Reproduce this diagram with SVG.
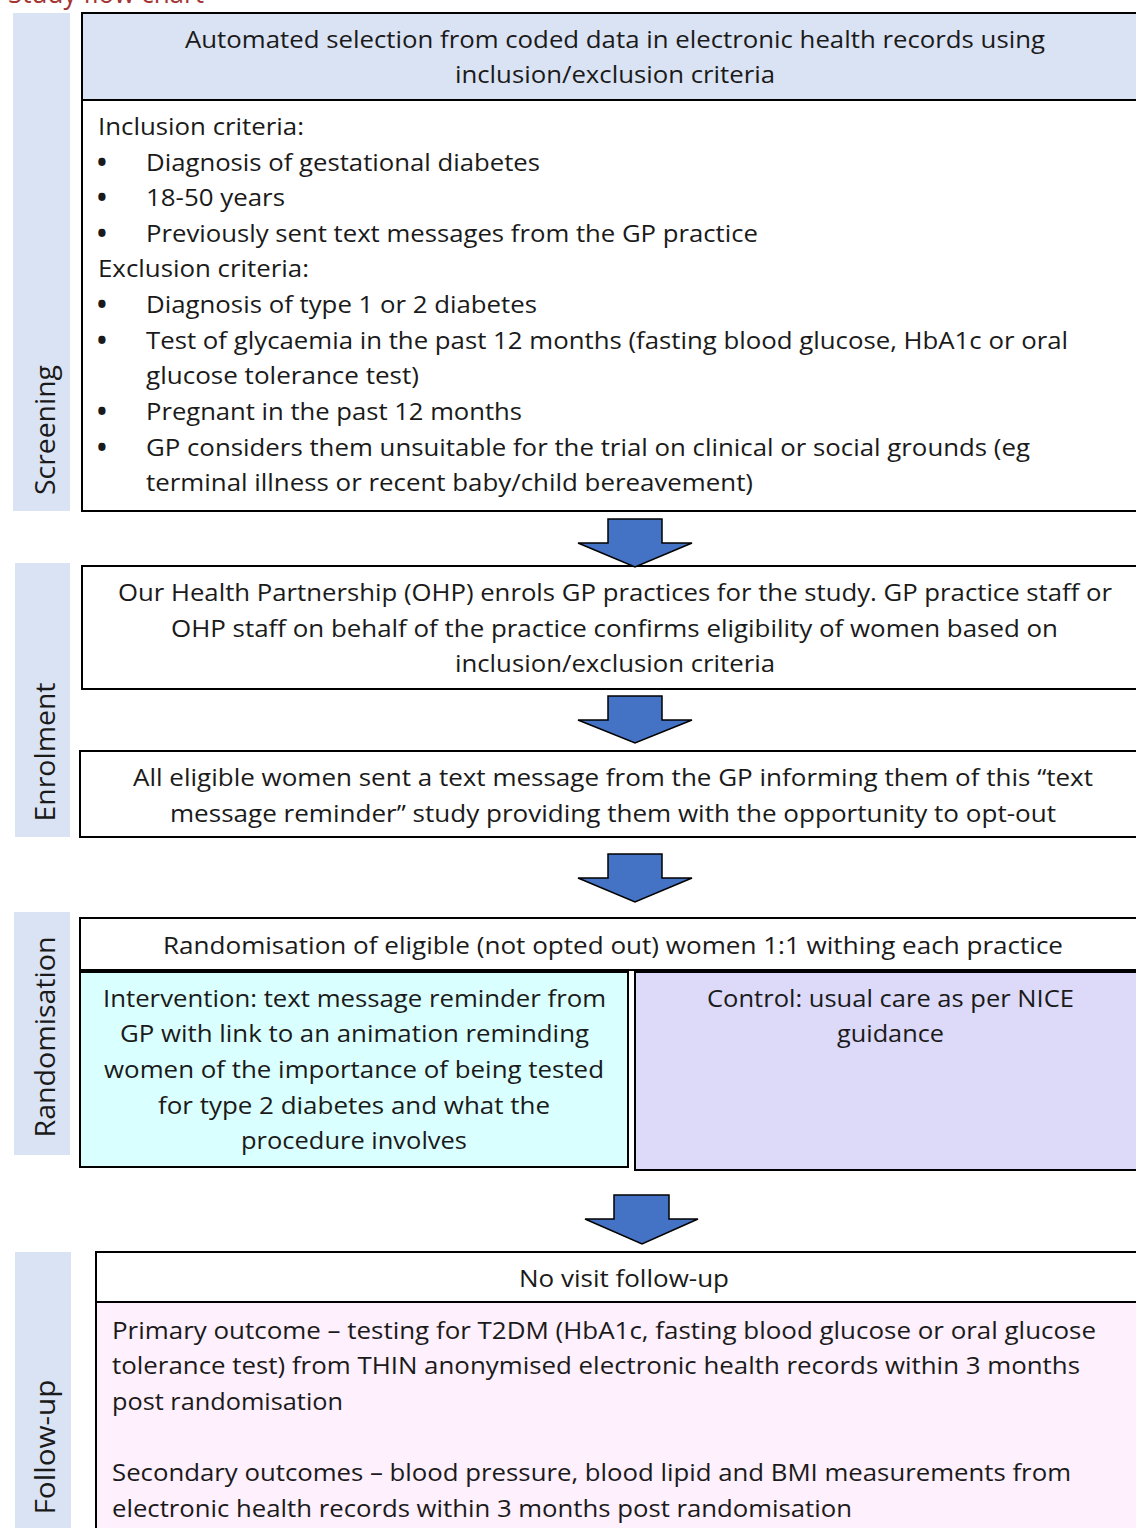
<svg xmlns="http://www.w3.org/2000/svg" width="1136" height="1528" viewBox="0 0 1136 1528">
<style>
text { font-family: "Open Sans", "Liberation Sans", sans-serif; font-size: 24px; fill: #1a1a1a; }
.lbl { fill: #dae3f3; }
.lt { font-size: 27px; text-anchor: middle; }
.box { stroke: #000; stroke-width: 2; }
.arrow { fill: #4472c4; stroke: #000; stroke-width: 1.5; stroke-linejoin: miter; }
.title { fill: #a33533; font-size: 27px; }
.bul { font-size: 26px; font-weight: bold; }
</style>
<rect width="1136" height="1528" fill="#fff"/>
<text class="title" x="8" y="3" textLength="196" lengthAdjust="spacingAndGlyphs">Study flow chart</text>

<g id="label-screening">
<rect class="lbl" x="13" y="13" width="57" height="498"/>
<text class="lt" transform="translate(55,430) rotate(-90)" textLength="130" lengthAdjust="spacingAndGlyphs">Screening</text>
</g>
<g id="label-enrolment">
<rect class="lbl" x="15" y="563" width="55" height="274"/>
<text class="lt" transform="translate(55,752) rotate(-90)" textLength="139" lengthAdjust="spacingAndGlyphs">Enrolment</text>
</g>
<g id="label-randomisation">
<rect class="lbl" x="14" y="912" width="56" height="243"/>
<text class="lt" transform="translate(55,1037) rotate(-90)" textLength="201" lengthAdjust="spacingAndGlyphs">Randomisation</text>
</g>
<g id="label-followup">
<rect class="lbl" x="15" y="1252" width="56" height="276"/>
<text class="lt" transform="translate(55,1447) rotate(-90)" textLength="135" lengthAdjust="spacingAndGlyphs">Follow-up</text>
</g>

<g id="screening-header">
<rect class="box" x="82" y="13" width="1070" height="87" fill="#dae3f3"/>
<text x="185" y="48" textLength="860" lengthAdjust="spacingAndGlyphs">Automated selection from coded data in electronic health records using</text>
<text x="455" y="83" textLength="320" lengthAdjust="spacingAndGlyphs">inclusion/exclusion criteria</text>
</g>
<g id="screening-criteria">
<rect class="box" x="82" y="100" width="1070" height="411" fill="#fff"/>
<text x="98" y="135" textLength="206" lengthAdjust="spacingAndGlyphs">Inclusion criteria:</text>
<text class="bul" x="97" y="172">•</text>
<text x="146" y="171" textLength="394" lengthAdjust="spacingAndGlyphs">Diagnosis of gestational diabetes</text>
<text class="bul" x="97" y="207">•</text>
<text x="146" y="206" textLength="139" lengthAdjust="spacingAndGlyphs">18-50 years</text>
<text class="bul" x="97" y="243">•</text>
<text x="146" y="242" textLength="612" lengthAdjust="spacingAndGlyphs">Previously sent text messages from the GP practice</text>
<text x="98" y="277" textLength="211" lengthAdjust="spacingAndGlyphs">Exclusion criteria:</text>
<text class="bul" x="97" y="314">•</text>
<text x="146" y="313" textLength="391" lengthAdjust="spacingAndGlyphs">Diagnosis of type 1 or 2 diabetes</text>
<text class="bul" x="97" y="350">•</text>
<text x="146" y="349" textLength="922" lengthAdjust="spacingAndGlyphs">Test of glycaemia in the past 12 months (fasting blood glucose, HbA1c or oral</text>
<text x="146" y="384" textLength="273" lengthAdjust="spacingAndGlyphs">glucose tolerance test)</text>
<text class="bul" x="97" y="421">•</text>
<text x="146" y="420" textLength="376" lengthAdjust="spacingAndGlyphs">Pregnant in the past 12 months</text>
<text class="bul" x="97" y="457">•</text>
<text x="146" y="456" textLength="884" lengthAdjust="spacingAndGlyphs">GP considers them unsuitable for the trial on clinical or social grounds (eg</text>
<text x="146" y="491" textLength="607" lengthAdjust="spacingAndGlyphs">terminal illness or recent baby/child bereavement)</text>
</g>

<g id="enrol-ohp">
<rect class="box" x="82" y="566" width="1070" height="123" fill="#fff"/>
<text x="118" y="601" textLength="994" lengthAdjust="spacingAndGlyphs">Our Health Partnership (OHP) enrols GP practices for the study. GP practice staff or</text>
<text x="171" y="637" textLength="887" lengthAdjust="spacingAndGlyphs">OHP staff on behalf of the practice confirms eligibility of women based on</text>
<text x="455" y="672" textLength="320" lengthAdjust="spacingAndGlyphs">inclusion/exclusion criteria</text>
</g>
<g id="enrol-text">
<rect class="box" x="80" y="751" width="1072" height="86" fill="#fff"/>
<text x="133" y="786" textLength="960" lengthAdjust="spacingAndGlyphs">All eligible women sent a text message from the GP informing them of this “text</text>
<text x="170" y="822" textLength="886" lengthAdjust="spacingAndGlyphs">message reminder” study providing them with the opportunity to opt-out</text>
</g>

<g id="randomisation">
<rect class="box" x="80" y="918" width="1072" height="52" fill="#fff"/>
<text x="163" y="954" textLength="900" lengthAdjust="spacingAndGlyphs">Randomisation of eligible (not opted out) women 1:1 withing each practice</text>
</g>
<g id="intervention">
<rect class="box" x="80" y="972" width="548" height="195" fill="#daffff"/>
<text x="103" y="1007" textLength="503" lengthAdjust="spacingAndGlyphs">Intervention: text message reminder from</text>
<text x="120" y="1042" textLength="469" lengthAdjust="spacingAndGlyphs">GP with link to an animation reminding</text>
<text x="104" y="1078" textLength="500" lengthAdjust="spacingAndGlyphs">women of the importance of being tested</text>
<text x="158" y="1114" textLength="392" lengthAdjust="spacingAndGlyphs">for type 2 diabetes and what the</text>
<text x="241" y="1149" textLength="226" lengthAdjust="spacingAndGlyphs">procedure involves</text>
</g>
<g id="control">
<rect class="box" x="635" y="972" width="517" height="198" fill="#dcd9f9"/>
<text x="707" y="1007" textLength="367" lengthAdjust="spacingAndGlyphs">Control: usual care as per NICE</text>
<text x="837" y="1042" textLength="107" lengthAdjust="spacingAndGlyphs">guidance</text>
</g>

<g id="followup-header">
<rect class="box" x="96" y="1252" width="1056" height="50" fill="#fff"/>
<text x="519" y="1287" textLength="210" lengthAdjust="spacingAndGlyphs">No visit follow-up</text>
</g>
<g id="followup-outcomes">
<rect class="box" x="96" y="1302" width="1056" height="240" fill="#fef0fd"/>
<text x="112" y="1339" textLength="984" lengthAdjust="spacingAndGlyphs">Primary outcome – testing for T2DM (HbA1c, fasting blood glucose or oral glucose</text>
<text x="112" y="1374" textLength="968" lengthAdjust="spacingAndGlyphs">tolerance test) from THIN anonymised electronic health records within 3 months</text>
<text x="112" y="1410" textLength="231" lengthAdjust="spacingAndGlyphs">post randomisation</text>
<text x="112" y="1481" textLength="959" lengthAdjust="spacingAndGlyphs">Secondary outcomes – blood pressure, blood lipid and BMI measurements from</text>
<text x="112" y="1517" textLength="740" lengthAdjust="spacingAndGlyphs">electronic health records within 3 months post randomisation</text>
</g>

<g id="connectors">
<path class="arrow" d="M608,519 H662 V543 H692 L635,567 L578,543 H608 Z"/>
<path class="arrow" d="M608,696 H662 V720 H692 L635,743 L578,720 H608 Z"/>
<path class="arrow" d="M608,854 H662 V878 H692 L635,902 L578,878 H608 Z"/>
<path class="arrow" d="M614,1195 H669 V1219 H698 L642,1244 L585,1219 H614 Z"/>
</g>
</svg>
